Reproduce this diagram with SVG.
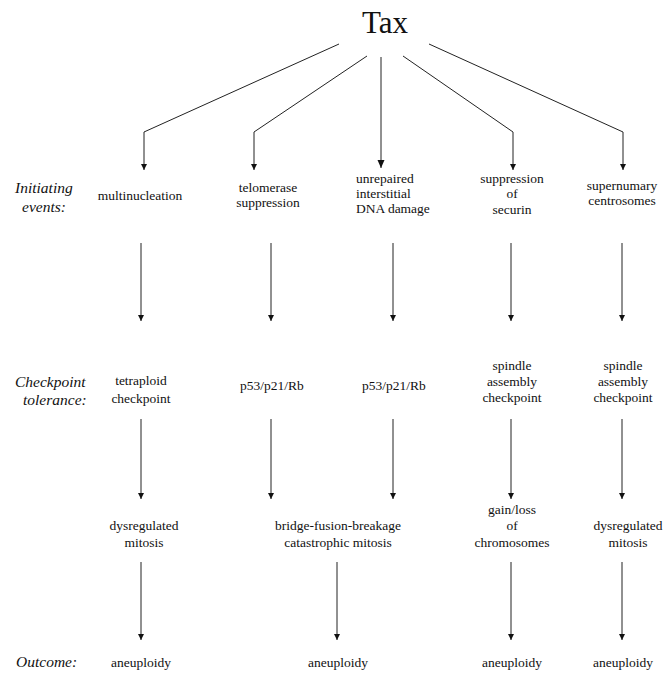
<svg xmlns="http://www.w3.org/2000/svg" width="669" height="673" viewBox="0 0 669 673" font-family="'Liberation Serif','Times New Roman',serif">
<defs>
<style>
text{font-family:"Liberation Serif","Times New Roman",serif;fill:#111}
.n{font-size:13.5px;text-anchor:middle}
.l{font-size:13.5px;text-anchor:start}
.lab{font-size:15.5px;font-style:italic;text-anchor:start}
.tax{font-size:31px;text-anchor:middle}
.c{fill:none;stroke:#222;stroke-width:1}
</style>
<marker id="ah" markerUnits="userSpaceOnUse" markerWidth="7" markerHeight="7" refX="6" refY="3" orient="auto">
<path d="M0,0 L6,3 L0,6 z" fill="#111"/>
</marker>
<marker id="ahb" markerUnits="userSpaceOnUse" markerWidth="10" markerHeight="8" refX="8" refY="3.5" orient="auto">
<path d="M0,0 L8,3.5 L0,7 z" fill="#111"/>
</marker>
</defs>
<rect width="669" height="673" fill="#fff"/>

<g id="labels">
<text class="lab" x="15" y="193">Initiating</text>
<text class="lab" x="22" y="212">events:</text>
<text class="lab" x="15" y="387">Checkpoint</text>
<text class="lab" x="23" y="405">tolerance:</text>
<text class="lab" x="16" y="667">Outcome:</text>
</g>

<g id="tax"><text class="tax" x="385" y="33">Tax</text></g>

<g id="multinucleation"><text class="n" x="140" y="200">multinucleation</text></g>
<g id="telomerase"><text class="n" x="268" y="192">telomerase</text><text class="n" x="268" y="207">suppression</text></g>
<g id="dna-damage"><text class="l" x="356" y="183">unrepaired</text><text class="l" x="356" y="198">interstitial</text><text class="l" x="356" y="213">DNA damage</text></g>
<g id="securin"><text class="n" x="512" y="183">suppression</text><text class="n" x="512" y="198">of</text><text class="n" x="512" y="214">securin</text></g>
<g id="centrosomes"><text class="n" x="622" y="190">supernumary</text><text class="n" x="622" y="205">centrosomes</text></g>

<g id="tetraploid"><text class="n" x="141" y="385">tetraploid</text><text class="n" x="141" y="403">checkpoint</text></g>
<g id="p53a"><text class="n" x="272" y="390">p53/p21/Rb</text></g>
<g id="p53b"><text class="n" x="394" y="390">p53/p21/Rb</text></g>
<g id="sac1"><text class="n" x="512" y="370">spindle</text><text class="n" x="512" y="386">assembly</text><text class="n" x="512" y="402">checkpoint</text></g>
<g id="sac2"><text class="n" x="623" y="370">spindle</text><text class="n" x="623" y="386">assembly</text><text class="n" x="623" y="402">checkpoint</text></g>

<g id="dysreg1"><text class="n" x="144" y="530">dysregulated</text><text class="n" x="144" y="547">mitosis</text></g>
<g id="bfb"><text class="n" x="338" y="530">bridge-fusion-breakage</text><text class="n" x="338" y="547">catastrophic mitosis</text></g>
<g id="gainloss"><text class="n" x="512" y="514">gain/loss</text><text class="n" x="512" y="530">of</text><text class="n" x="512" y="547">chromosomes</text></g>
<g id="dysreg2"><text class="n" x="628" y="530">dysregulated</text><text class="n" x="628" y="547">mitosis</text></g>

<g id="out1"><text class="n" x="141" y="667">aneuploidy</text></g>
<g id="out2"><text class="n" x="338" y="667">aneuploidy</text></g>
<g id="out3"><text class="n" x="512" y="667">aneuploidy</text></g>
<g id="out4"><text class="n" x="623" y="667">aneuploidy</text></g>

<g id="connectors" class="c">
<polyline class="c" points="339,44 144,132 144,170" marker-end="url(#ah)"/>
<polyline class="c" points="367,56 254,132 254,170" marker-end="url(#ah)"/>
<polyline class="c" points="381,57 381,168" marker-end="url(#ahb)"/>
<polyline class="c" points="403,56 513,132 513,170" marker-end="url(#ah)"/>
<polyline class="c" points="429,44 623,132 623,170" marker-end="url(#ah)"/>

<line class="c" x1="141" y1="243" x2="141" y2="321" marker-end="url(#ah)"/>
<line class="c" x1="271" y1="243" x2="271" y2="321" marker-end="url(#ah)"/>
<line class="c" x1="393" y1="243" x2="393" y2="321" marker-end="url(#ah)"/>
<line class="c" x1="511" y1="243" x2="511" y2="321" marker-end="url(#ah)"/>
<line class="c" x1="622" y1="243" x2="622" y2="321" marker-end="url(#ah)"/>

<line class="c" x1="141" y1="419" x2="141" y2="499" marker-end="url(#ah)"/>
<line class="c" x1="271" y1="419" x2="271" y2="499" marker-end="url(#ah)"/>
<line class="c" x1="393" y1="419" x2="393" y2="499" marker-end="url(#ah)"/>
<line class="c" x1="511" y1="419" x2="511" y2="499" marker-end="url(#ah)"/>
<line class="c" x1="622" y1="419" x2="622" y2="499" marker-end="url(#ah)"/>

<line class="c" x1="141" y1="562" x2="141" y2="640" marker-end="url(#ah)"/>
<line class="c" x1="337" y1="562" x2="337" y2="640" marker-end="url(#ah)"/>
<line class="c" x1="511" y1="562" x2="511" y2="640" marker-end="url(#ah)"/>
<line class="c" x1="622" y1="562" x2="622" y2="640" marker-end="url(#ah)"/>
</g>
</svg>
